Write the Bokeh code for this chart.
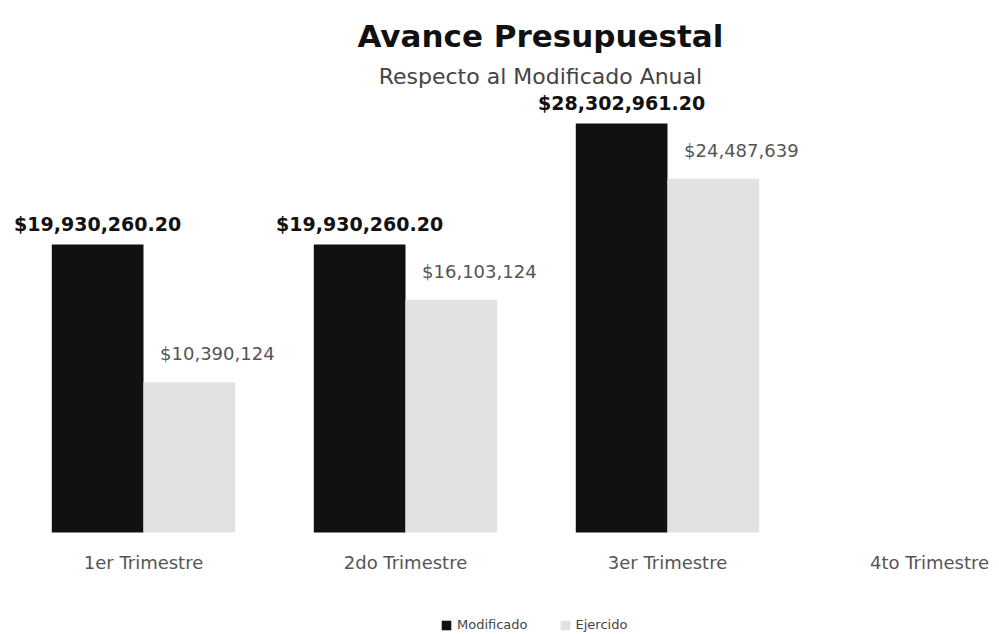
from bokeh.plotting import figure
from bokeh.models import (ColumnDataSource, LabelSet, Label, Legend, LegendItem,
                          Range1d)
from bokeh.core.properties import value
from bokeh.embed import file_html
from bokeh.resources import INLINE

categories = ["1er Trimestre", "2do Trimestre", "3er Trimestre", "4to Trimestre"]
modificado = [19930260.20, 19930260.20, 28302961.20]
ejercido = [10390124.0, 16103124.0, 24487639.0]
title_text = "Avance Presupuestal"
subtitle_text = "Respecto al Modificado Anual"

FONT = "DejaVu Sans"
pos = [i + 0.5 for i in range(len(categories))]
bar_w = 0.35
px_per_unit = 14.45 / 1e6  # vertical pixels per peso

src_m = ColumnDataSource(dict(
    x=[pos[i] - bar_w / 2 for i in range(len(modificado))],
    top=modificado,
    label=[f"${v:,.2f}" for v in modificado]))
src_e = ColumnDataSource(dict(
    x=[pos[i] + bar_w / 2 for i in range(len(ejercido))],
    top=ejercido,
    label=[f"${v:,.0f}" for v in ejercido]))
src_c = ColumnDataSource(dict(x=pos, y=[0] * len(pos), label=categories))

W, H = 999, 634
top_px = 532
bottom_px = H - top_px
p = figure(width=W, height=H, x_range=Range1d(-0.0458, 3.7672),
           y_range=Range1d(-bottom_px / px_per_unit, top_px / px_per_unit),
           output_backend="svg", toolbar_location=None, min_border=0)
p.axis.visible = False
p.xgrid.grid_line_color = None
p.ygrid.grid_line_color = None
p.outline_line_color = None

r_m = p.vbar(x="x", top="top", width=bar_w, source=src_m,
             fill_color="#111111", line_color=None)
r_e = p.vbar(x="x", top="top", width=bar_w, source=src_e,
             fill_color="#e2e2e2", line_color=None)

# category labels under the baseline
p.text(x="x", y="y", text="label", source=src_c, y_offset=30,
       text_align="center", text_baseline="middle",
       text_font=value(FONT), text_font_size="18px", text_color="#555555")

p.add_layout(LabelSet(x="x", y="top", text="label", source=src_m,
                      text_align="center", text_baseline="bottom", y_offset=10,
                      text_font=value(FONT), text_font_style="bold",
                      text_font_size="19px", text_color="#111111"))
p.add_layout(LabelSet(x="x", y="top", text="label", source=src_e,
                      text_align="center", text_baseline="bottom", y_offset=18,
                      x_offset=28,
                      text_font=value(FONT), text_font_size="18px",
                      text_color="#555555"))

p.add_layout(Label(x=2.015, y=(532 - 35) / 14.45 * 1e6, text=title_text,
                   text_align="center", text_baseline="middle",
                   text_font=FONT, text_font_style="bold",
                   text_font_size="31px", text_color="#111111"))
p.add_layout(Label(x=2.015, y=(532 - 76) / 14.45 * 1e6, text=subtitle_text,
                   text_align="center", text_baseline="middle",
                   text_font=FONT, text_font_size="22px", text_color="#444444"))

legend = Legend(items=[LegendItem(label="Modificado", renderers=[r_m]),
                       LegendItem(label="Ejercido", renderers=[r_e])],
                orientation="horizontal", location=(440, 2),
                label_text_font=FONT, label_text_font_size="13px",
                label_text_color="#444444", glyph_height=12, glyph_width=12,
                padding=2, margin=0, spacing=31, border_line_color=None,
                background_fill_alpha=0)
p.add_layout(legend)

open("out.html", "w").write(file_html(p, INLINE))
